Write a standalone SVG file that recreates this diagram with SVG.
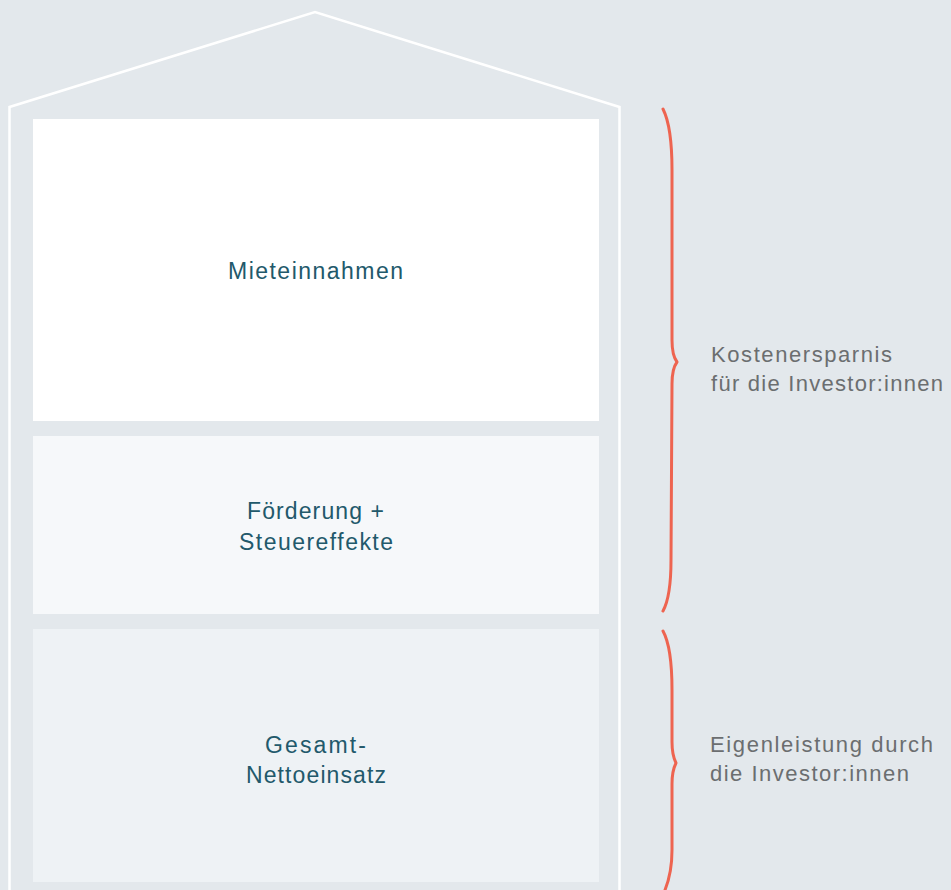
<svg xmlns="http://www.w3.org/2000/svg" width="951" height="890" viewBox="0 0 951 890">
  <style>
    .node-text { font-family: "Liberation Sans", Arial, sans-serif; font-size: 23px; fill: #22596b; }
    .side-text { font-family: "Liberation Sans", Arial, sans-serif; font-size: 22px; fill: #6b6e70; }
    .brace { fill: none; stroke: #ee6450; stroke-width: 3; stroke-linecap: round; stroke-linejoin: round; }
    .house { fill: none; stroke: #ffffff; stroke-width: 2.5; stroke-linejoin: miter; }
  </style>
  <rect x="0" y="0" width="951" height="890" fill="#e3e8ec"/>
  <g id="house-outline">
    <polyline class="house" points="9.5,892 9.5,107 315,12 619.5,107 619.5,892"/>
  </g>
  <g id="node-mieteinnahmen">
    <rect x="33" y="119" width="566" height="302" fill="#ffffff"/>
    <text class="node-text" x="228" y="279" textLength="175" lengthAdjust="spacing">Mieteinnahmen</text>
  </g>
  <g id="node-foerderung">
    <rect x="33" y="436" width="566" height="178" fill="#f6f8fa"/>
    <text class="node-text" x="247" y="519" textLength="137" lengthAdjust="spacing">Förderung +</text>
    <text class="node-text" x="239" y="550" textLength="154" lengthAdjust="spacing">Steuereffekte</text>
  </g>
  <g id="node-nettoeinsatz">
    <rect x="33" y="629" width="566" height="253" fill="#eef2f5"/>
    <text class="node-text" x="265" y="753" textLength="101" lengthAdjust="spacing">Gesamt-</text>
    <text class="node-text" x="246" y="783" textLength="140" lengthAdjust="spacing">Nettoeinsatz</text>
  </g>
  <g id="connectors">
    <path class="brace" d="M663,109 C669,121 672,140 672,170 L672,340 C672,352 674,358 677,362 C674,366 672,372 672,384 L671,560 C671,585 669,600 663,611"/>
    <path class="brace" d="M663,631 C669,642 672,660 672,690 L672,742 C672,754 674,759 676,763 C674,767 672,772 672,784 L672,850 C672,868 669,880 665,890"/>
  </g>
  <g id="label-kostenersparnis">
    <text class="side-text" x="711" y="362" textLength="181" lengthAdjust="spacing">Kostenersparnis</text>
    <text class="side-text" x="711" y="391" textLength="232" lengthAdjust="spacing">für die Investor:innen</text>
  </g>
  <g id="label-eigenleistung">
    <text class="side-text" x="710" y="752" textLength="223" lengthAdjust="spacing">Eigenleistung durch</text>
    <text class="side-text" x="710" y="781" textLength="199" lengthAdjust="spacing">die Investor:innen</text>
  </g>
</svg>
